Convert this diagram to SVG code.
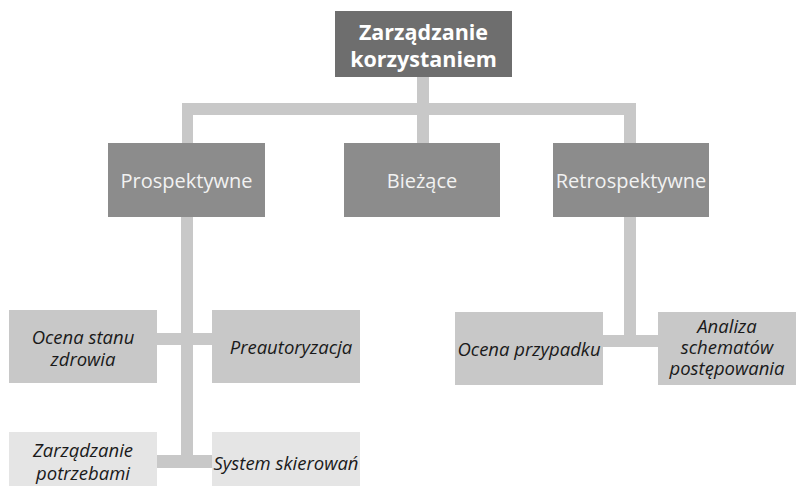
<svg xmlns="http://www.w3.org/2000/svg" width="798" height="486" viewBox="0 0 798 486">
<style>
.top{fill:#6e6e6e}
.mid{fill:#8c8c8c}
.low{fill:#c8c8c8}
.bot{fill:#e5e5e5}
.con{fill:#c8c8c8}
.tt{font-family:"Open Sans","Liberation Sans",sans-serif;font-weight:bold;font-size:21.5px;fill:#ffffff;text-anchor:middle}
.mt{font-family:"Open Sans","Liberation Sans",sans-serif;font-size:20px;fill:#f2f2f2;text-anchor:middle}
.lt{font-family:"Open Sans","Liberation Sans",sans-serif;font-style:italic;font-size:18.5px;fill:#1a1a1a;text-anchor:middle}
</style>
<rect width="798" height="486" fill="#ffffff"/>
<g id="connectors">
<rect class="con" x="417" y="77" width="12" height="67"/>
<rect class="con" x="182" y="103" width="454" height="12"/>
<rect class="con" x="182" y="103" width="11" height="41"/>
<rect class="con" x="624" y="103" width="12" height="41"/>
<rect class="con" x="181" y="216" width="12" height="252"/>
<rect class="con" x="156" y="333" width="57" height="12"/>
<rect class="con" x="156" y="455" width="57" height="13"/>
<rect class="con" x="624" y="216" width="12" height="131"/>
<rect class="con" x="602" y="335" width="57" height="12"/>
</g>
<g id="n-root">
<rect class="top" x="335" y="11" width="177" height="66"/>
<text class="tt" x="423.5" y="40">Zarządzanie</text>
<text class="tt" x="423.5" y="67">korzystaniem</text>
</g>
<g id="n-prospektywne">
<rect class="mid" x="108" y="143" width="157" height="74"/>
<text class="mt" x="186.5" y="188">Prospektywne</text>
</g>
<g id="n-biezace">
<rect class="mid" x="344" y="143" width="156" height="74"/>
<text class="mt" x="422" y="188">Bieżące</text>
</g>
<g id="n-retrospektywne">
<rect class="mid" x="553" y="143" width="156" height="74"/>
<text class="mt" x="631" y="188">Retrospektywne</text>
</g>
<g id="n-ocena-stanu">
<rect class="low" x="9" y="310" width="148" height="73"/>
<text class="lt" x="83" y="344">Ocena stanu</text>
<text class="lt" x="83" y="366">zdrowia</text>
</g>
<g id="n-preautoryzacja">
<rect class="low" x="212" y="310" width="148" height="73"/>
<text class="lt" x="291" y="354">Preautoryzacja</text>
</g>
<g id="n-zarzadzanie-potrzebami">
<rect class="bot" x="9" y="432" width="148" height="54"/>
<text class="lt" x="83" y="457">Zarządzanie</text>
<text class="lt" x="83" y="480">potrzebami</text>
</g>
<g id="n-system-skierowan">
<rect class="bot" x="212" y="432" width="148" height="54"/>
<text class="lt" x="286" y="470">System skierowań</text>
</g>
<g id="n-ocena-przypadku">
<rect class="low" x="455" y="312" width="148" height="73"/>
<text class="lt" x="529" y="356">Ocena przypadku</text>
</g>
<g id="n-analiza">
<rect class="low" x="658" y="312" width="138" height="73"/>
<text class="lt" x="727" y="333">Analiza</text>
<text class="lt" x="727" y="354">schematów</text>
<text class="lt" x="727" y="375">postępowania</text>
</g>
</svg>
